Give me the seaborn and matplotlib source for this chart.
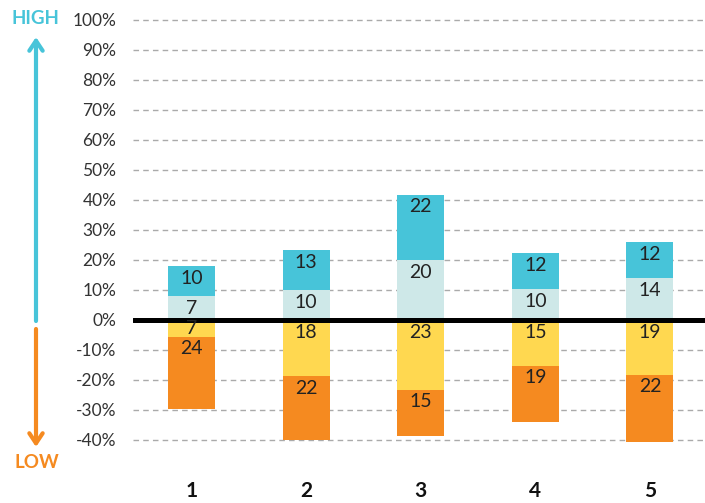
import matplotlib
matplotlib.use("Agg")
import matplotlib.pyplot as plt
import seaborn as sns
import numpy as np

categories = ["1", "2", "3", "4", "5"]

# heights (%)
high_upper = [10, 13.3, 21.7, 12, 12]      # blue
high_lower = [8, 10, 20, 10.3, 14]         # pale
low_upper = [5.6, 18.7, 23.3, 15.3, 18.3]  # yellow
low_lower = [24, 21.3, 15.4, 18.7, 22.2]   # orange

# printed labels
lab_high_upper = [10, 13, 22, 12, 12]
lab_high_lower = [7, 10, 20, 10, 14]
lab_low_upper = [7, 18, 23, 15, 19]
lab_low_lower = [24, 22, 15, 19, 22]

c_blue = "#47C4D9"
c_pale = "#CEE8E8"
c_yellow = "#FFD850"
c_orange = "#F58A20"

sns.set_theme(style="white")
plt.rcParams["font.family"] = ["Lato", "DejaVu Sans"]

fig = plt.figure(figsize=(7.05, 5.03), dpi=100)
ax = fig.add_axes([133 / 705, 1 - 446 / 503, 1 - 133 / 705, 432 / 503])

hu = np.array(high_upper)
hl = np.array(high_lower)
lu = np.array(low_upper)
ll = np.array(low_lower)

w = 0.41
bar_kw = dict(width=w, saturation=1, ax=ax, zorder=2, linewidth=0)
sns.barplot(x=categories, y=hl + hu, color=c_blue, **bar_kw)
sns.barplot(x=categories, y=hl, color=c_pale, **bar_kw)
sns.barplot(x=categories, y=-(lu + ll), color=c_orange, **bar_kw)
sns.barplot(x=categories, y=-lu, color=c_yellow, **bar_kw)

ax.axhline(0, color="black", lw=3.6, zorder=4)

# labels
lab_kw = dict(ha="center", va="center", fontsize=14, color="#222222", zorder=5)
for i in range(len(categories)):
    top = hl[i] + hu[i]
    ax.text(i, top - min(4, hu[i] / 2), str(lab_high_upper[i]), **lab_kw)
    ax.text(i, hl[i] - min(4, hl[i] / 2), str(lab_high_lower[i]), **lab_kw)
    ax.text(i, 0 - min(4, lu[i] / 2), str(lab_low_upper[i]), **lab_kw)
    ax.text(i, -lu[i] - min(4, ll[i] / 2), str(lab_low_lower[i]), **lab_kw)

ax.set_ylim(-42, 102)
ax.set_xlim(-0.51, 4.48)
yt = np.arange(-40, 101, 10)
ax.set_yticks(yt)
ax.set_yticklabels([f"{v}%" for v in yt], fontsize=12.5, color="#333333")
ax.set_xticks(range(5))
ax.set_xticklabels(categories, fontsize=15, fontweight="bold", color="#111111")
ax.tick_params(axis="y", length=0, pad=12)
ax.tick_params(axis="x", length=0, pad=25)
ax.grid(axis="y", color="#AAAAAA", linestyle=(0, (4, 3)), lw=1, zorder=0)
ax.set_axisbelow(True)
for s in ax.spines.values():
    s.set_visible(False)
ax.set_xlabel("")
ax.set_ylabel("")

# HIGH / LOW arrows
ax.annotate("", xy=(36, 466), xytext=(36, 182), xycoords="figure pixels",
            textcoords="figure pixels",
            arrowprops=dict(arrowstyle="->, head_length=0.6, head_width=0.4",
                            color=c_blue, lw=3, shrinkA=0, shrinkB=0))
ax.annotate("", xy=(36, 56), xytext=(36, 174), xycoords="figure pixels",
            textcoords="figure pixels",
            arrowprops=dict(arrowstyle="->, head_length=0.6, head_width=0.4",
                            color=c_orange, lw=3, shrinkA=0, shrinkB=0))
fig.text(35 / 705, 1 - 19 / 503, "HIGH", ha="center", va="center",
         fontsize=13.5, fontweight="bold", color=c_blue)
fig.text(37 / 705, 1 - 463 / 503, "LOW", ha="center", va="center",
         fontsize=13.5, fontweight="bold", color=c_orange)

fig.savefig("out.png", dpi=100)
